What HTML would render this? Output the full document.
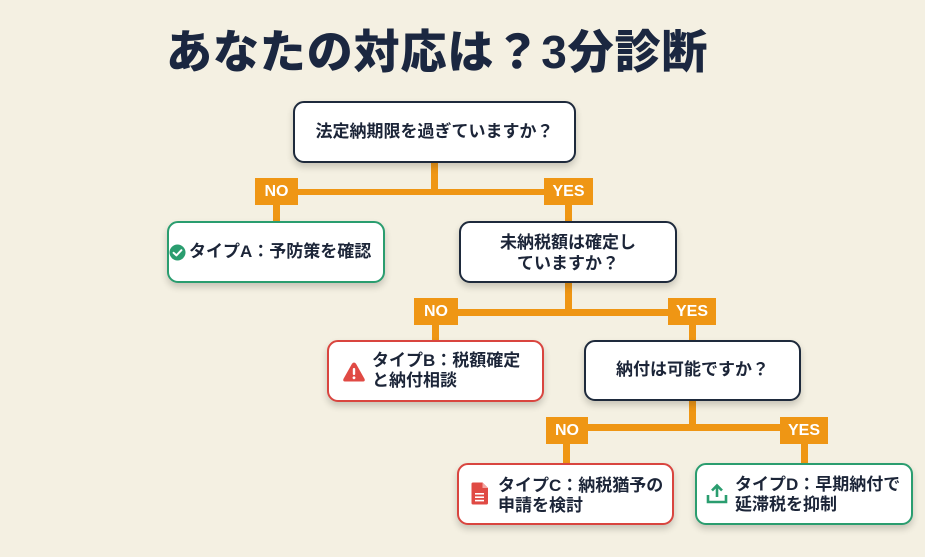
<!DOCTYPE html>
<html>
<head>
<meta charset="utf-8">
<style>
  html, body { margin:0; padding:0; }
  body {
    width:925px; height:557px; overflow:hidden; position:relative;
    background:#f4f0e2;
    font-family:"Liberation Sans","Noto Sans CJK JP",sans-serif;
    color:#1c2538;
  }
  .title {
    position:absolute; left:166px; top:29px;
    font-size:46px; line-height:46px; font-weight:900;
    letter-spacing:0.9px; color:#1b2740; white-space:nowrap;
    font-family:"Liberation Sans","Noto Sans CJK JP",sans-serif;
  }
  .box {
    position:absolute; box-sizing:border-box;
    background:#fff; border-radius:11px;
    border:2.5px solid #1e2a3c;
    box-shadow:0 4px 7px rgba(40,40,30,0.22);
  }
  .green { border-color:#2a9d6f; }
  .red { border-color:#d9453f; }
  .t {
    position:absolute; font-size:17px; font-weight:700; white-space:nowrap;
    color:#1c2538;
  }
  .c { text-align:center; }
  .lbl {
    position:absolute; background:#ef9614; color:#fff;
    font-weight:700; font-size:16px; text-align:center;
    font-family:"Liberation Sans","Noto Sans CJK JP",sans-serif;
  }
  .ln { position:absolute; background:#ef9614; }
  svg.ic { position:absolute; }
</style>
</head>
<body>

<div class="title">あなたの対応は？3分診断</div>

<!-- connector lines -->
<div class="ln" style="left:431px;top:160px;width:7px;height:33px;"></div>
<div class="ln" style="left:290px;top:189px;width:260px;height:6px;"></div>
<div class="ln" style="left:273px;top:200px;width:7px;height:23px;"></div>
<div class="ln" style="left:565px;top:200px;width:7px;height:23px;"></div>

<div class="ln" style="left:565px;top:280px;width:7px;height:33px;"></div>
<div class="ln" style="left:450px;top:309px;width:225px;height:7px;"></div>
<div class="ln" style="left:432px;top:320px;width:7px;height:22px;"></div>
<div class="ln" style="left:689px;top:320px;width:7px;height:22px;"></div>

<div class="ln" style="left:689px;top:398px;width:7px;height:32px;"></div>
<div class="ln" style="left:580px;top:424px;width:205px;height:7px;"></div>
<div class="ln" style="left:563px;top:440px;width:7px;height:25px;"></div>
<div class="ln" style="left:801px;top:440px;width:7px;height:25px;"></div>

<!-- labels -->
<div class="lbl" style="left:255px;top:178px;width:43px;height:27px;line-height:27px;">NO</div>
<div class="lbl" style="left:544px;top:178px;width:49px;height:27px;line-height:27px;">YES</div>
<div class="lbl" style="left:414px;top:298px;width:44px;height:27px;line-height:27px;">NO</div>
<div class="lbl" style="left:668px;top:298px;width:48px;height:27px;line-height:27px;">YES</div>
<div class="lbl" style="left:546px;top:417px;width:42px;height:27px;line-height:27px;">NO</div>
<div class="lbl" style="left:780px;top:417px;width:48px;height:27px;line-height:27px;">YES</div>

<!-- boxes -->
<div class="box" style="left:293px;top:101px;width:283px;height:62px;"></div>
<div class="t c" style="left:293px;top:121px;width:283px;line-height:22px;">法定納期限を過ぎていますか？</div>

<div class="box green" style="left:167px;top:221px;width:218px;height:62px;"></div>
<svg class="ic" style="left:169px;top:244px;" width="17" height="17" viewBox="0 0 17 17">
  <circle cx="8.5" cy="8.5" r="8" fill="#2a9d6f"/>
  <path d="M4.6 8.8 L7.4 11.4 L12.4 6.2" stroke="#fff" stroke-width="2" fill="none" stroke-linecap="round" stroke-linejoin="round"/>
</svg>
<div class="t" style="left:189px;top:241px;line-height:22px;">タイプA：予防策を確認</div>

<div class="box" style="left:459px;top:221px;width:218px;height:62px;"></div>
<div class="t c" style="left:459px;top:232px;width:218px;line-height:21px;">未納税額は確定し<br>ていますか？</div>

<div class="box red" style="left:327px;top:340px;width:217px;height:62px;"></div>
<svg class="ic" style="left:342px;top:361px;" width="24" height="22" viewBox="0 0 24 22">
  <path d="M12 1.5 Q13.2 1.5 14 2.8 L22.6 18 Q23.4 20.5 21 20.5 L3 20.5 Q0.6 20.5 1.4 18 L10 2.8 Q10.8 1.5 12 1.5 Z" fill="#e04a44"/>
  <rect x="10.8" y="7" width="2.4" height="7" rx="1" fill="#fff"/>
  <circle cx="12" cy="16.8" r="1.4" fill="#fff"/>
</svg>
<div class="t" style="left:372px;top:351px;line-height:20px;">タイプB：税額確定<br>と納付相談</div>

<div class="box" style="left:584px;top:340px;width:217px;height:61px;"></div>
<div class="t c" style="left:584px;top:359px;width:217px;line-height:22px;">納付は可能ですか？</div>

<div class="box red" style="left:457px;top:463px;width:217px;height:62px;"></div>
<svg class="ic" style="left:471px;top:482px;" width="18" height="23" viewBox="0 0 18 23">
  <path d="M2 0.5 L11.5 0.5 L17 6 L17 21 Q17 22.5 15.5 22.5 L2 22.5 Q0.5 22.5 0.5 21 L0.5 2 Q0.5 0.5 2 0.5 Z" fill="#e04a44"/>
  <path d="M11.5 0.5 L11.5 6 L17 6 Z" fill="#f3a6a2"/>
  <rect x="4" y="11" width="9" height="1.6" fill="#fff"/>
  <rect x="4" y="14.4" width="9" height="1.6" fill="#fff"/>
  <rect x="4" y="17.8" width="9" height="1.6" fill="#fff"/>
</svg>
<div class="t" style="left:498px;top:476px;line-height:20px;">タイプC：納税猶予の<br>申請を検討</div>

<div class="box green" style="left:695px;top:463px;width:218px;height:62px;"></div>
<svg class="ic" style="left:706px;top:483px;" width="22" height="21" viewBox="0 0 22 21">
  <path d="M11 14 L11 3" stroke="#2a9d6f" stroke-width="2.6" fill="none"/>
  <path d="M6 7.5 L11 2.5 L16 7.5" stroke="#2a9d6f" stroke-width="2.6" fill="none" stroke-linejoin="miter"/>
  <path d="M2 12 L2 19 L20 19 L20 12" stroke="#2a9d6f" stroke-width="2.6" fill="none"/>
</svg>
<div class="t" style="left:735px;top:475px;line-height:20px;">タイプD：早期納付で<br>延滞税を抑制</div>

</body>
</html>
